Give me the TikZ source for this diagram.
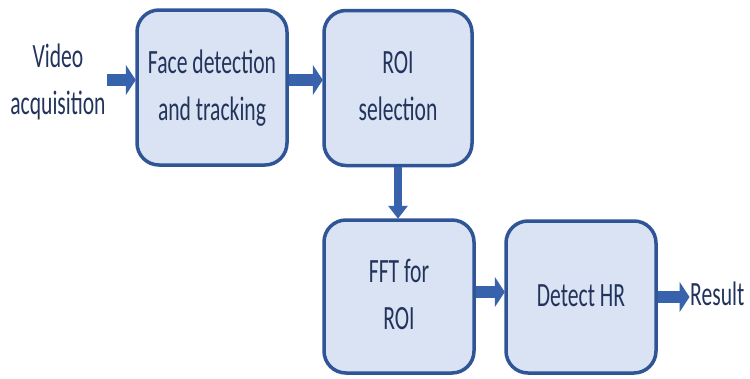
\documentclass[tikz,border=0pt]{standalone}
\usepackage{fontspec}
\setmainfont{Carlito}
\usetikzlibrary{arrows.meta}
\definecolor{boxfill}{HTML}{DAE3F3}
\definecolor{boxline}{HTML}{2F5597}
\definecolor{arrowblue}{HTML}{3862AB}
\definecolor{txt}{HTML}{22345C}
% condensed two-line label
\newcommand{\narrow}[1]{\scalebox{0.635}[1]{\begin{tabular}{@{}c@{}}#1\end{tabular}}}
\tikzset{
  stage/.style={draw=boxline, fill=boxfill, line width=3.5pt, rounded corners=22pt,
    minimum width=150pt, minimum height=155pt, inner sep=0pt, text=txt,
    font=\fontsize{34}{47}\selectfont},
  plain/.style={inner sep=1pt, text=txt, font=\fontsize{34}{47}\selectfont},
  flowh/.style={draw=arrowblue, line width=12pt,
    -{Triangle[length=10pt,width=30pt]}, shorten >=-0.5pt},
  flowv/.style={draw=arrowblue, line width=8pt,
    -{Triangle[length=13pt,width=19pt]}, shorten >=-0.5pt},
}
\begin{document}
\begin{tikzpicture}[x=1pt,y=-1pt]
\useasboundingbox (0,0) rectangle (750,378);

\node[stage] (face) at (212,87.5) {\narrow{Face detection\\and tracking}};
\node[stage, minimum width=148pt] (roi) at (398,88) {\narrow{ROI\\selection}};
\node[stage, minimum height=153pt] (fft) at (399,296.5) {\narrow{FFT for\\ROI}};
\node[stage, minimum height=152pt] (hr) at (581,297) {\narrow{Detect HR}};

\node[plain] (video) at (58,82) {\narrow{Video\\acquisition}};
\node[plain, anchor=west] (result) at (689,296) {\narrow{Result}};

\coordinate (rowa) at (0,80);
\coordinate (rowb) at (0,292);
\coordinate (rowc) at (0,297);

\draw[flowh] (video.east |- rowa) -- (face.west |- rowa);
\draw[flowh] (face.east |- rowa) -- (roi.west |- rowa);
\draw[flowv] (roi.south) -- (roi.south |- fft.north);
\draw[flowh] (fft.east |- rowb) -- (hr.west |- rowb);
\draw[flowh] (hr.east |- rowc) -- (result.west |- rowc);
\end{tikzpicture}
\end{document}
